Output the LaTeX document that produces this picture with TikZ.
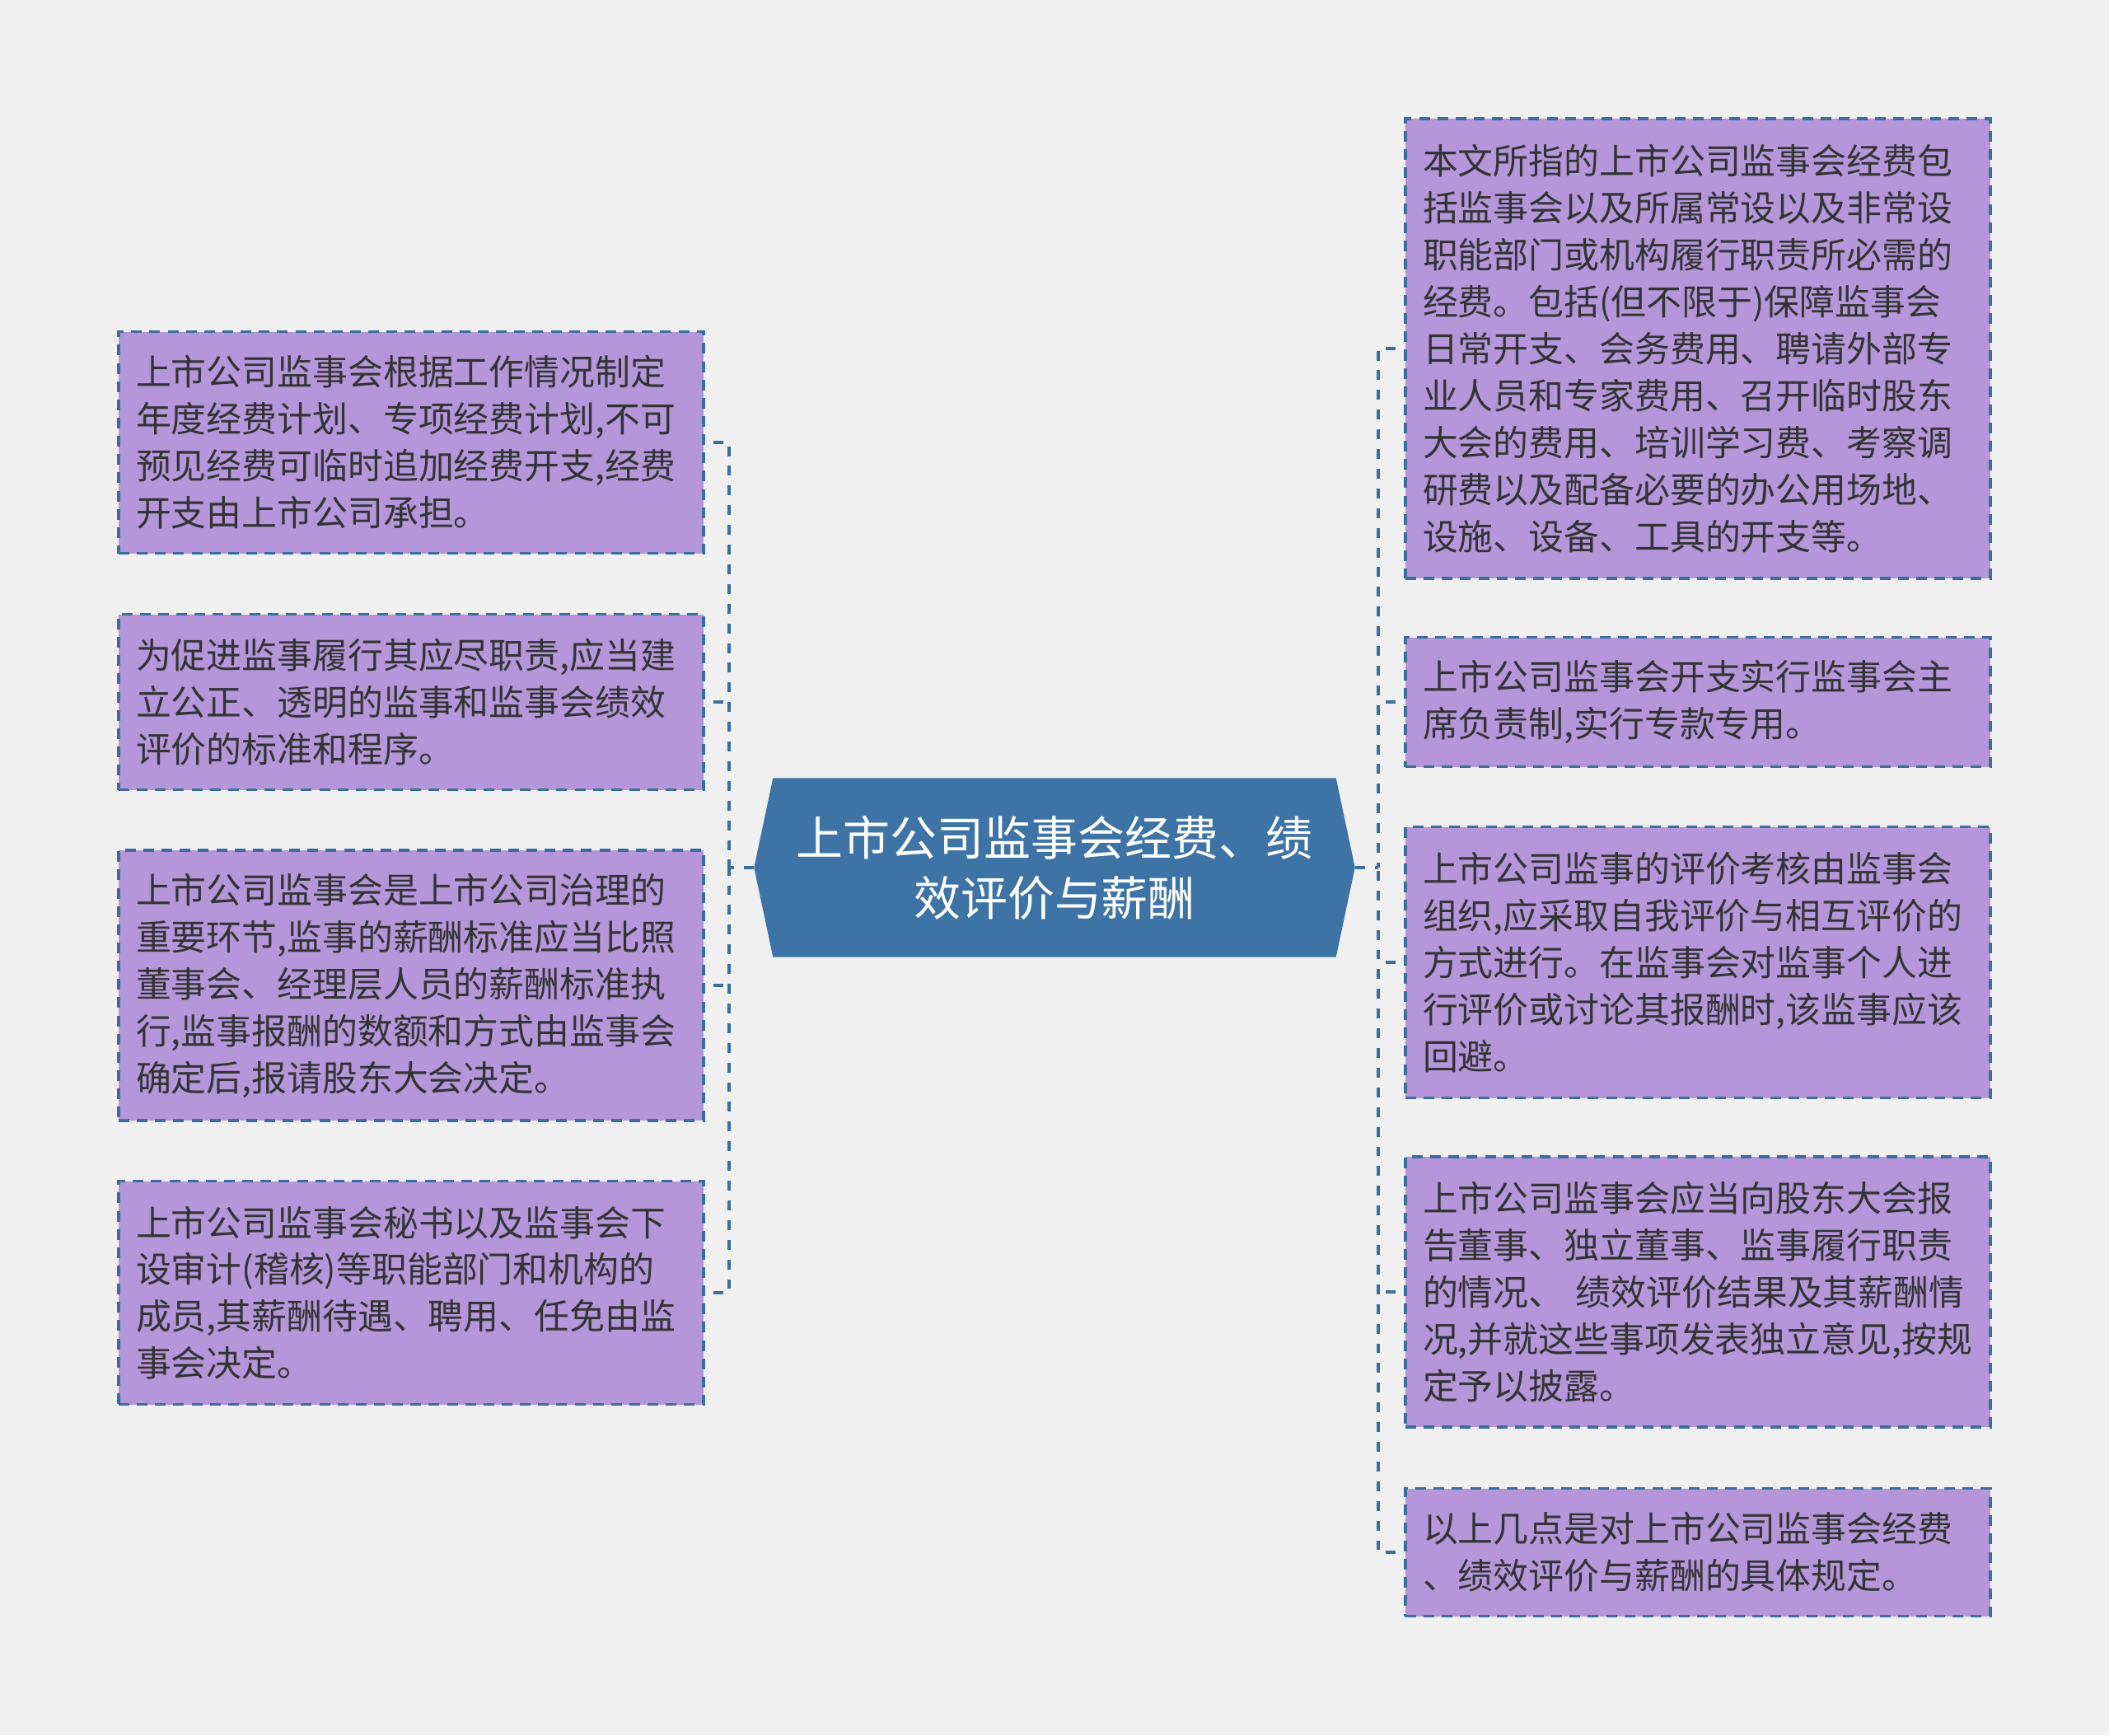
\documentclass[tikz,border=0pt]{standalone}
\usepackage{fontspec}
\setmainfont{Noto Sans CJK SC}
\usetikzlibrary{positioning, backgrounds}
\definecolor{bgcol}{HTML}{F0F0F0}
\definecolor{boxfill}{HTML}{B696DA}
\definecolor{linkblue}{HTML}{3A6E9E}
\definecolor{rootfill}{HTML}{3D73A5}
\definecolor{textgray}{HTML}{333333}

\begin{document}
\begin{tikzpicture}[
    leaf/.style={rectangle, draw=linkblue, line width=0.95pt, dash pattern=on 3.7pt off 2.6pt, fill=boxfill, text=textgray, text width=6.68cm, inner xsep=0.21cm, inner ysep=0pt, align=left, font=\fontsize{12.2pt}{16.2pt}\selectfont},
    rootbox/.style={rectangle, minimum width=7.28cm, minimum height=2.16cm, text=white, align=center, font=\fontsize{16.2pt}{20.8pt}\selectfont},
    link/.style={draw=linkblue, line width=1.3pt, dash pattern=on 3.4pt off 3.4pt}
]
    \useasboundingbox (0,0) rectangle (25.6,-21.06);

    % Root
    \node[rootbox] (root) at (12.80,-10.53) {上市公司监事会经费、绩\\效评价与薪酬};

    % Left branches
    \node[leaf, minimum height=2.69cm] (l1) at (4.99,-5.37) {上市公司监事会根据工作情况制定\\年度经费计划、专项经费计划,不可\\预见经费可临时追加经费开支,经费\\开支由上市公司承担。};
    \node[leaf, minimum height=2.13cm] (l2) at (4.99,-8.52) {为促进监事履行其应尽职责,应当建\\立公正、透明的监事和监事会绩效\\评价的标准和程序。};
    \node[leaf, minimum height=3.28cm] (l3) at (4.99,-11.96) {上市公司监事会是上市公司治理的\\重要环节,监事的薪酬标准应当比照\\董事会、经理层人员的薪酬标准执\\行,监事报酬的数额和方式由监事会\\确定后,报请股东大会决定。};
    \node[leaf, minimum height=2.71cm] (l4) at (4.99,-15.69) {上市公司监事会秘书以及监事会下\\设审计(稽核)等职能部门和机构的\\成员,其薪酬待遇、聘用、任免由监\\事会决定。};

    % Right branches
    \node[leaf, minimum height=5.58cm] (r1) at (20.61,-4.23) {本文所指的上市公司监事会经费包\\括监事会以及所属常设以及非常设\\职能部门或机构履行职责所必需的\\经费。包括(但不限于)保障监事会\\日常开支、会务费用、聘请外部专\\业人员和专家费用、召开临时股东\\大会的费用、培训学习费、考察调\\研费以及配备必要的办公用场地、\\设施、设备、工具的开支等。};
    \node[leaf, minimum height=1.57cm] (r2) at (20.61,-8.52) {上市公司监事会开支实行监事会主\\席负责制,实行专款专用。};
    \node[leaf, minimum height=3.29cm] (r3) at (20.61,-11.68) {上市公司监事的评价考核由监事会\\组织,应采取自我评价与相互评价的\\方式进行。在监事会对监事个人进\\行评价或讨论其报酬时,该监事应该\\回避。};
    \node[leaf, minimum height=3.28cm] (r4) at (20.61,-15.68) {上市公司监事会应当向股东大会报\\告董事、独立董事、监事履行职责\\的情况、 绩效评价结果及其薪酬情\\况,并就这些事项发表独立意见,按规\\定予以披露。};
    \node[leaf, minimum height=1.55cm] (r5) at (20.61,-18.84) {以上几点是对上市公司监事会经费\\、绩效评价与薪酬的具体规定。};

    \begin{scope}[on background layer]
        \fill[bgcol] (0,0) rectangle (25.6,-21.06);
        \fill[rootfill] (root.west) -- ([xshift=0.23cm]root.north west) -- ([xshift=-0.23cm]root.north east)
            -- (root.east) -- ([xshift=-0.23cm]root.south east) -- ([xshift=0.23cm]root.south west) -- cycle;
    \end{scope}

    % Connectors
    \coordinate (lbus) at (8.85,-10.53);
    \coordinate (rbus) at (16.73,-10.53);
    \draw[link] (root.west) -- (lbus);
    \draw[link] (root.east) -- (rbus);
    \draw[link] ([xshift=0.1cm]l1.east) -| (lbus);
    \draw[link] ([xshift=0.1cm]l2.east) -- (l2.east -| lbus);
    \draw[link] ([xshift=0.1cm]l3.east) -- (l3.east -| lbus);
    \draw[link] ([xshift=0.1cm]l4.east) -| (lbus);
    \draw[link] ([xshift=-0.1cm]r1.west) -| (rbus);
    \draw[link] ([xshift=-0.1cm]r2.west) -- (r2.west -| rbus);
    \draw[link] ([xshift=-0.1cm]r3.west) -- (r3.west -| rbus);
    \draw[link] ([xshift=-0.1cm]r4.west) -- (r4.west -| rbus);
    \draw[link] ([xshift=-0.1cm]r5.west) -| (rbus);
\end{tikzpicture}
\end{document}
